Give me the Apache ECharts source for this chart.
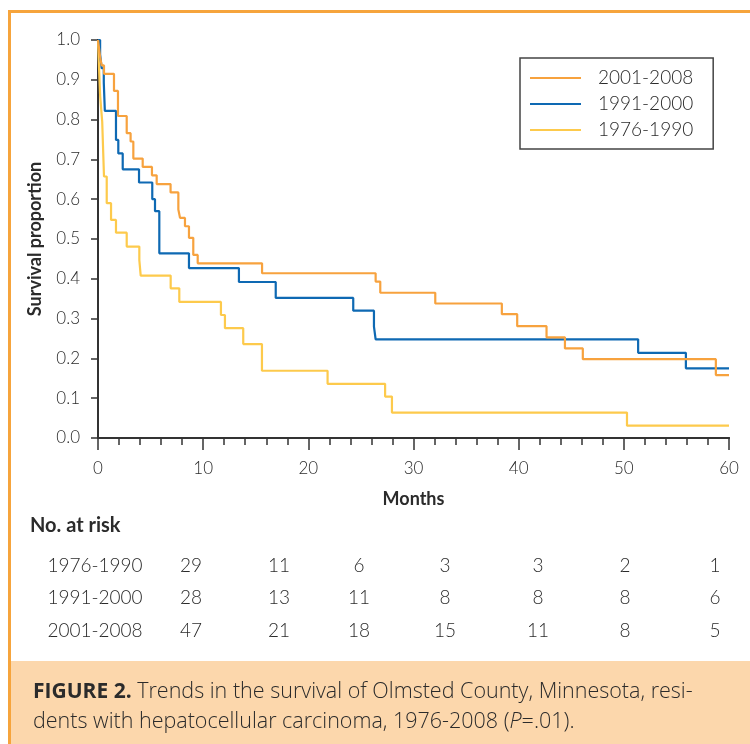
<!DOCTYPE html>
<html>
<head>
<meta charset="utf-8">
<script src="https://cdn.jsdelivr.net/npm/echarts@6/dist/echarts.min.js"></script>
<style>
html,body{margin:0;padding:0;background:#fff;}
#chart{width:750px;height:744px;}
</style>
</head>
<body>
<div id="chart"></div>
<script>
// Kaplan-Meier step data [month, survival proportion]
const s2001 = [[0,1],[0.1,0.979],[0.2,0.957],[0.35,0.936],[0.57,0.915],[1.52,0.872],[1.9,0.809],[2.73,0.766],[3.1,0.745],[3.36,0.702],[4.25,0.681],[5.13,0.660],[5.58,0.638],[6.9,0.617],[7.64,0.574],[7.8,0.553],[8.27,0.532],[8.65,0.503],[9.06,0.460],[9.48,0.439],[15.6,0.414],[26.4,0.393],[26.84,0.365],[32.07,0.338],[38.4,0.311],[39.86,0.281],[42.65,0.253],[44.4,0.225],[46.1,0.198],[58.75,0.158],[60,0.158]];
const s1991 = [[0,1],[0.2,0.964],[0.35,0.929],[0.55,0.893],[0.65,0.822],[1.71,0.749],[1.93,0.715],[2.35,0.675],[3.9,0.642],[5.16,0.600],[5.42,0.570],[5.83,0.464],[8.65,0.427],[13.4,0.392],[16.9,0.352],[24.27,0.320],[26.24,0.280],[26.4,0.248],[51.36,0.214],[55.9,0.175],[60,0.175]];
const s1976 = [[0,1],[0.1,0.93],[0.2,0.862],[0.3,0.827],[0.4,0.795],[0.57,0.657],[0.83,0.590],[1.24,0.548],[1.71,0.516],[2.73,0.481],[3.93,0.447],[4.06,0.408],[6.91,0.376],[7.73,0.342],[11.69,0.309],[12.07,0.276],[13.81,0.236],[15.59,0.169],[21.83,0.136],[27.3,0.104],[27.95,0.064],[50.3,0.031],[60,0.031]];

const seriesNames = ['2001-2008','1991-2000','1976-1990'];
const riskRowLabels = ['1976-1990','1991-2000','2001-2008'];
const risk1976 = [29,11,6,3,3,2,1];
const risk1991 = [28,13,11,8,8,8,6];
const risk2001 = [47,21,18,15,11,8,5];
const riskRows = [risk1976, risk1991, risk2001];

const COL_OR = '#F7A23E', COL_BL = '#0E69B3', COL_YE = '#FDCA4C';
const FONT = 'Lato, "Open Sans", sans-serif';
const CFONT = '"Open Sans", Lato, sans-serif';
const TXT = '#2b2b2b';

const chart = echarts.init(document.getElementById('chart'), null, {renderer:'canvas'});

const riskX = [191,279,359,445,538,625,715];
const rowY = [566,598,631];
const graphics = [];
graphics.push({type:'rect', shape:{x:11, y:661, width:740, height:84}, style:{fill:'#FCD7AC'}, silent:true, z:0});
graphics.push({type:'line', shape:{x1:9.5, y1:11, x2:9.5, y2:744}, style:{stroke:'#F6A43C', lineWidth:3}});
graphics.push({type:'line', shape:{x1:8, y1:11.5, x2:750, y2:11.5}, style:{stroke:'#F6A43C', lineWidth:3}});
graphics.push({type:'text', x:30, y:526, style:{text:'No. at risk', font:'bold 20px '+FONT, fill:TXT, textVerticalAlign:'middle'}});
riskRowLabels.forEach((lab,i)=>{
  graphics.push({type:'text', x:95, y:rowY[i], style:{text:lab, font:'300 19px '+FONT, fill:TXT, textAlign:'center', textVerticalAlign:'middle'}});
  riskRows[i].forEach((v,j)=>{
    graphics.push({type:'text', x:riskX[j], y:rowY[i], style:{text:String(v), font:'300 19px '+FONT, fill:TXT, textAlign:'center', textVerticalAlign:'middle'}});
  });
});
graphics.push({type:'text', x:33, y:692, style:{
  text:'{b|FIGURE 2.} Trends in the survival of Olmsted County, Minnesota, resi-',
  font:'300 21.5px '+CFONT, fill:TXT, textVerticalAlign:'middle',
  rich:{b:{font:'bold 21px '+CFONT, fill:TXT}}}});
graphics.push({type:'text', x:33, y:722, style:{
  text:'dents with hepatocellular carcinoma, 1976-2008 ({i|P}=.01).',
  font:'300 21.5px '+CFONT, fill:TXT, textVerticalAlign:'middle',
  rich:{i:{font:'italic 300 21.5px '+CFONT, fill:TXT}}}});

function mkSeries(name, data, color, z){
  return {name, type:'line', step:'end', data, symbol:'none', showSymbol:false,
    lineStyle:{color, width:2.2}, itemStyle:{color}, z, animation:false, clip:false};
}

chart.setOption({
  animation:false,
  backgroundColor:'#fff',
  grid:{left:98, top:40, right:21, bottom:306},
  legend:{
    data:seriesNames, orient:'vertical', left:520, top:58,
    icon:'rect', itemWidth:51, itemHeight:2, itemGap:4,
    padding:[9,20,8,10], borderColor:'#444', borderWidth:1.5,
    textStyle:{fontFamily:FONT, fontSize:19, fontWeight:300, color:TXT, padding:[0,0,0,12], lineHeight:22}
  },
  xAxis:[{
    type:'value', min:0, max:60, interval:10,
    name:'Months', nameLocation:'middle', nameGap:52,
    nameTextStyle:{fontFamily:FONT, fontSize:18, fontWeight:'bold', color:TXT},
    axisLine:{lineStyle:{color:'#333', width:2}},
    axisTick:{show:true, length:12, lineStyle:{color:'#333', width:1.5}},
    minorTick:{show:true, splitNumber:5, length:7, lineStyle:{color:'#333', width:1.5}},
    splitLine:{show:false},
    axisLabel:{fontFamily:FONT, fontSize:17, fontWeight:300, color:TXT, margin:22}
  },{
    type:'value', min:0, max:60, position:'top',
    axisLine:{show:true, lineStyle:{color:'#333', width:2}},
    axisTick:{show:false}, axisLabel:{show:false}, splitLine:{show:false}
  }],
  yAxis:[{
    type:'value', min:0, max:1, interval:0.1,
    name:'Survival proportion', nameLocation:'middle', nameGap:54, nameRotate:90,
    nameTextStyle:{fontFamily:FONT, fontSize:18, fontWeight:'bold', color:TXT},
    axisLine:{show:true, lineStyle:{color:'#333', width:2}},
    axisTick:{show:true, length:7, lineStyle:{color:'#333', width:1.5}},
    splitLine:{show:false},
    axisLabel:{fontFamily:FONT, fontSize:17, fontWeight:300, color:TXT, margin:18, formatter:v=>v.toFixed(1)}
  },{
    type:'value', min:0, max:1, position:'right',
    axisLine:{show:true, lineStyle:{color:'#333', width:2}},
    axisTick:{show:false}, axisLabel:{show:false}, splitLine:{show:false}
  }],
  series:[
    mkSeries('1976-1990', s1976, COL_YE, 2),
    mkSeries('1991-2000', s1991, COL_BL, 3),
    mkSeries('2001-2008', s2001, COL_OR, 4)
  ],
  graphic:graphics
});
</script>
</body>
</html>
